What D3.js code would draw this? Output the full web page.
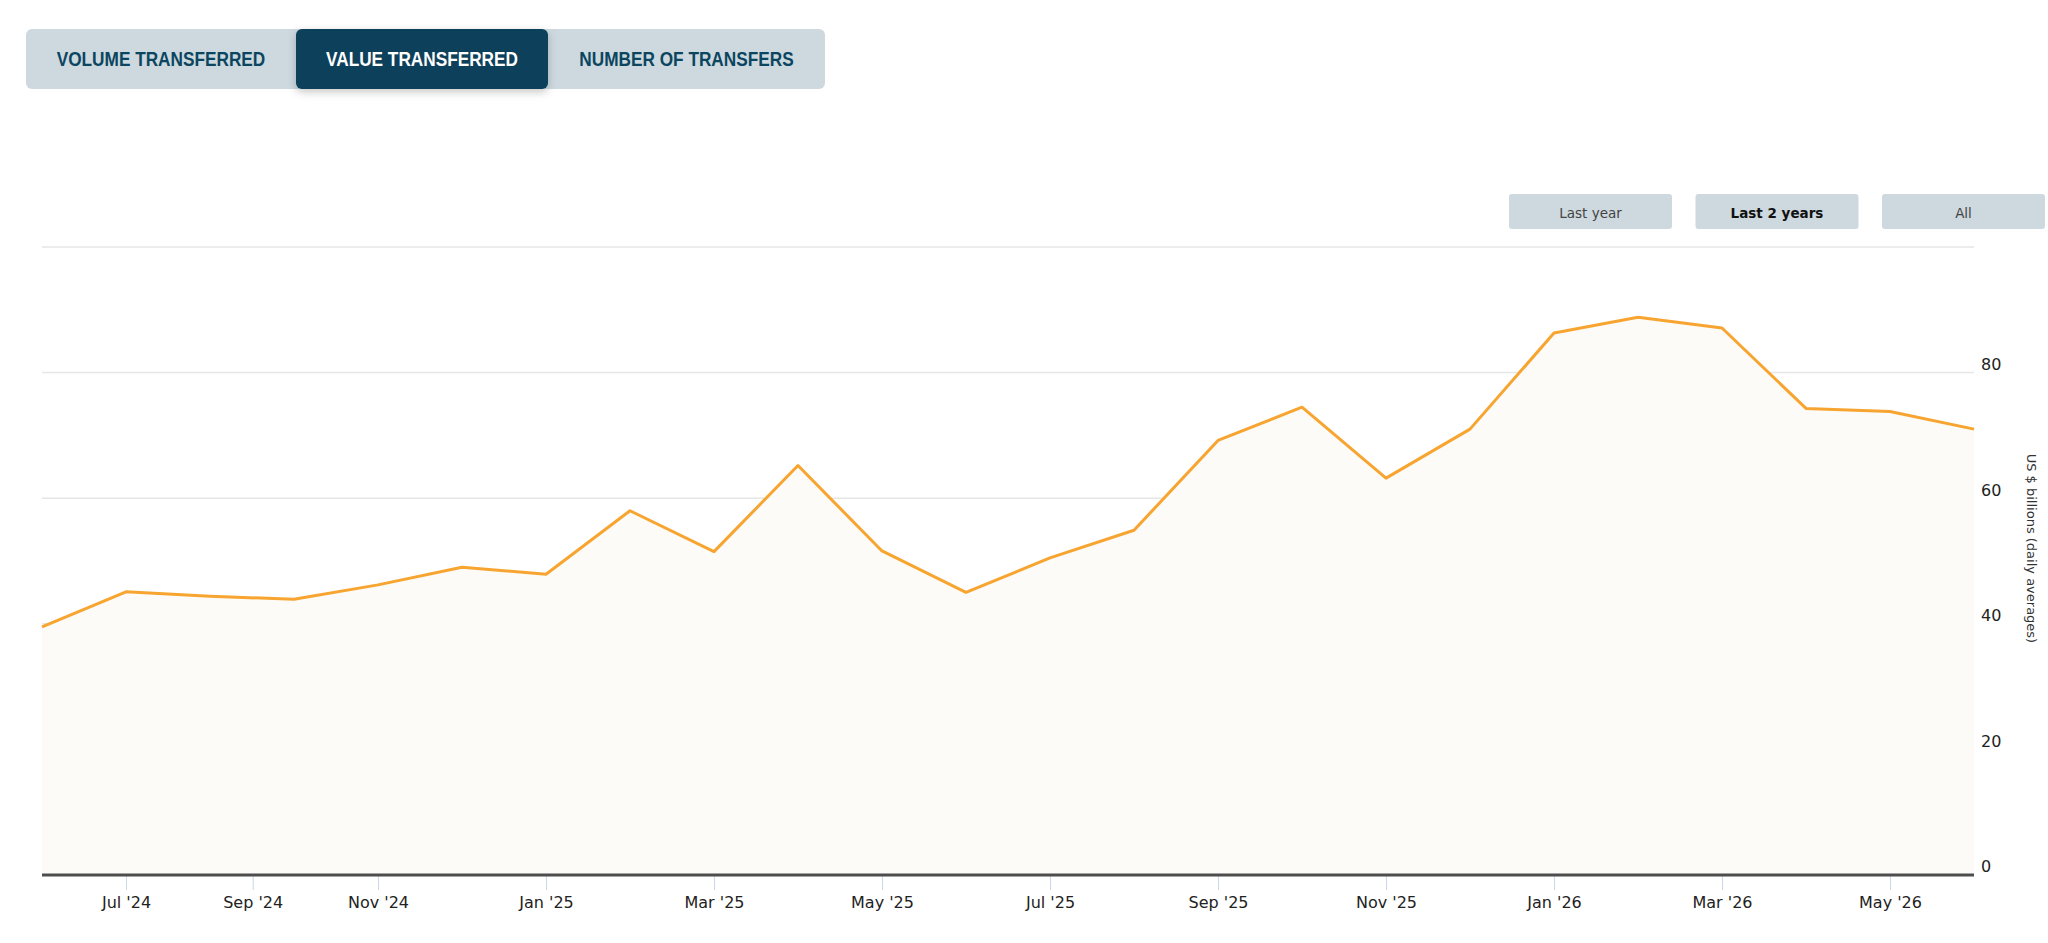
<!DOCTYPE html>
<html>
<head>
<meta charset="utf-8">
<script src="https://cdn.jsdelivr.net/npm/d3@7"></script>
<style>
  body { margin: 0; background: #fff; }
  svg { display: block; }
</style>
</head>
<body>
<div id="chart"></div>
<script>
// data (US $ billions, daily averages)
const months = ["2024-06", "2024-07", "2024-08", "2024-10", "2024-11", "2024-12",
  "2025-01", "2025-02", "2025-03", "2025-04", "2025-05", "2025-06", "2025-07", "2025-08",
  "2025-09", "2025-10", "2025-11", "2025-12", "2026-01", "2026-02", "2026-03", "2026-04",
  "2026-05", "2026-06"];
const values = [39.5, 45.1, 44.4, 43.9, 46.2, 49.0, 47.9, 58.0, 51.5, 65.2, 51.6, 45.0,
  50.5, 54.9, 69.2, 74.5, 63.2, 71.0, 86.3, 88.8, 87.1, 74.3, 73.8, 71.0];
const xTicks = ["2024-07", "2024-09", "2024-11", "2025-01", "2025-03", "2025-05", "2025-07",
  "2025-09", "2025-11", "2026-01", "2026-03", "2026-05"];
const yGrid = [0, 20, 40, 60, 80, 100];
const yLabels = [0, 20, 40, 60, 80];
const tabs = ["VOLUME TRANSFERRED", "VALUE TRANSFERRED", "NUMBER OF TRANSFERS"];
const ranges = ["Last year", "Last 2 years", "All"];
const activeTab = 1, activeRange = 1;

const parse = d3.timeParse("%Y-%m");
const data = months.map((m, i) => ({date: parse(m), value: values[i]}));

const W = 2048, H = 943;
const margin = {top: 247, right: 74, bottom: 68, left: 42},
    width = W - margin.left - margin.right,
    height = H - margin.top - margin.bottom;

const svg = d3.select("#chart").append("svg")
  .attr("width", W)
  .attr("height", H);

const defs = svg.append("defs");
const shadow = defs.append("filter").attr("id", "shadow")
  .attr("x", "-10%").attr("y", "-20%").attr("width", "120%").attr("height", "160%");
shadow.append("feDropShadow")
  .attr("dx", 0).attr("dy", 3).attr("stdDeviation", 4)
  .attr("flood-color", "#000").attr("flood-opacity", 0.22);

// tab bar at the top
const tabEdges = [26, 296, 548, 825];
const tabBar = svg.append("g");
tabBar.append("rect")
  .attr("x", tabEdges[0]).attr("y", 29)
  .attr("width", tabEdges[3] - tabEdges[0]).attr("height", 60)
  .attr("rx", 6).attr("fill", "#cdd9df");
tabBar.append("rect")
  .attr("x", tabEdges[activeTab]).attr("y", 29)
  .attr("width", tabEdges[activeTab + 1] - tabEdges[activeTab]).attr("height", 60)
  .attr("rx", 6).attr("fill", "#07405a")
  .attr("filter", "url(#shadow)");
tabBar.selectAll("text.tab")
  .data(tabs)
  .enter().append("text")
  .attr("class", "tab")
  .attr("x", (d, i) => (tabEdges[i] + tabEdges[i + 1]) / 2)
  .attr("y", 66)
  .attr("text-anchor", "middle")
  .style("font-family", "'Liberation Sans', Arial, sans-serif")
  .style("font-weight", "bold")
  .style("font-size", "20.5px")
  .attr("fill", (d, i) => i === activeTab ? "#ffffff" : "#0c4560")
  .text(d => d)
  .each(function() {
    // the original face is a condensed grotesque, squeeze it
    const w = this.getComputedTextLength();
    d3.select(this).attr("textLength", w * 0.84).attr("lengthAdjust", "spacingAndGlyphs");
  });

// range selector buttons
const rangeX = d3.scalePoint().domain(ranges).range([1509, 1882]);
const rg = svg.selectAll("g.range")
  .data(ranges)
  .enter().append("g")
  .attr("class", "range")
  .attr("transform", d => `translate(${rangeX(d)},194)`);
rg.append("rect")
  .attr("width", 163).attr("height", 35).attr("rx", 3)
  .attr("fill", "#cdd9df");
rg.append("text")
  .attr("x", 81.5).attr("y", 24)
  .attr("text-anchor", "middle")
  .style("font-family", "'DejaVu Sans', sans-serif")
  .style("font-size", "13.5px")
  .style("font-weight", (d, i) => i === activeRange ? "bold" : "normal")
  .attr("fill", (d, i) => i === activeRange ? "#111" : "#444")
  .text(d => d);

const g = svg.append("g")
  .attr("transform", `translate(${margin.left},${margin.top})`);

// x: ordinal-style, points evenly spaced, dates interpolated between them
const x = d3.scaleTime()
  .domain(data.map(d => d.date))
  .range(data.map((d, i) => i * width / (data.length - 1)));

const y = d3.scaleLinear()
  .domain([0, 100])
  .range([height, 0]);

// gridlines
g.append("g")
  .selectAll("line")
  .data(yGrid)
  .enter().append("line")
  .attr("x1", 0).attr("x2", width)
  .attr("y1", d => y(d)).attr("y2", d => y(d))
  .attr("stroke", "#e6e6e6")
  .attr("stroke-width", 1.5);

// area + line
const area = d3.area()
  .x(d => x(d.date))
  .y0(y(0))
  .y1(d => y(d.value));

const line = d3.line()
  .x(d => x(d.date))
  .y(d => y(d.value));

g.append("path")
  .datum(data)
  .attr("d", area)
  .attr("fill", "#fcfbf7");

g.append("path")
  .datum(data)
  .attr("d", line)
  .attr("fill", "none")
  .attr("stroke", "#f7a530")
  .attr("stroke-width", 3)
  .attr("stroke-linejoin", "round");

// x axis
const xAxis = g.append("g")
  .attr("transform", `translate(0,${height})`)
  .call(d3.axisBottom(x)
    .tickValues(xTicks.map(parse))
    .tickFormat(d3.timeFormat("%b '%y"))
    .tickSize(15)
    .tickPadding(7));
xAxis.select(".domain").remove();
xAxis.selectAll(".tick line")
  .attr("stroke", "#ccd6eb")
  .attr("stroke-width", 1);
xAxis.selectAll(".tick text")
  .attr("fill", "#222")
  .style("font-family", "'DejaVu Sans', sans-serif")
  .style("font-size", "16px");
xAxis.append("line")
  .attr("x1", 0).attr("x2", width)
  .attr("stroke", "#4d4d4d")
  .attr("stroke-width", 3);

// y labels on the right
const yAxis = g.append("g")
  .attr("transform", `translate(${width},0)`)
  .call(d3.axisRight(y)
    .tickValues(yLabels)
    .tickSize(0)
    .tickPadding(7));
yAxis.select(".domain").remove();
yAxis.selectAll(".tick text")
  .attr("dy", "-0.2em")
  .attr("fill", "#222")
  .style("font-family", "'DejaVu Sans', sans-serif")
  .style("font-size", "16px");

// y axis title
g.append("text")
  .attr("transform", `translate(${width + 58},${y(52)}) rotate(90)`)
  .attr("text-anchor", "middle")
  .attr("dy", "0.35em")
  .attr("fill", "#333")
  .style("font-family", "'DejaVu Sans', sans-serif")
  .style("font-size", "13px")
  .text("US $ billions (daily averages)");
</script>
</body>
</html>
